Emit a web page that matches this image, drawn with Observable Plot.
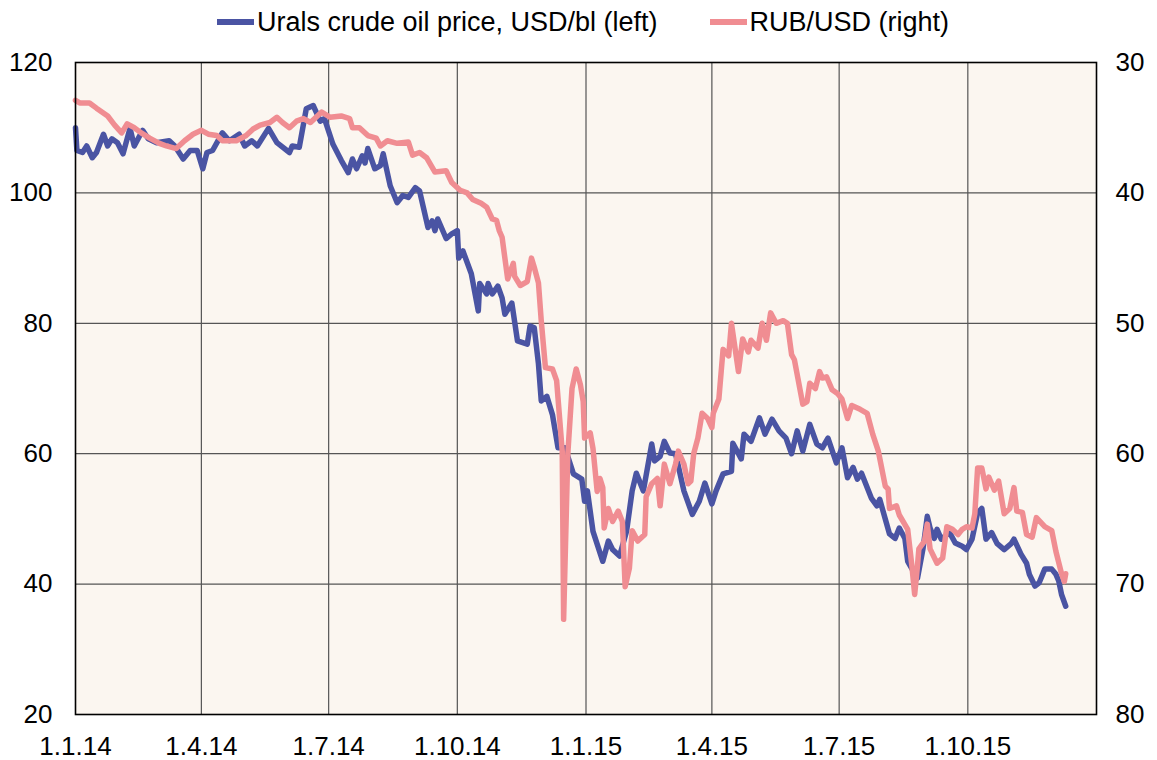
<!DOCTYPE html>
<html><head><meta charset="utf-8">
<script src="https://cdn.jsdelivr.net/npm/d3@7"></script>
<script src="https://cdn.jsdelivr.net/npm/@observablehq/plot@0.6"></script>
<style>
body{margin:0;background:#fff;font-family:"Liberation Sans",Arial,sans-serif;}
#legend{height:44px;display:flex;align-items:center;justify-content:center;font-size:27px;color:#000;gap:52px;padding-left:9px;box-sizing:border-box}
.item{display:flex;align-items:center;white-space:nowrap}
.sw{width:37px;height:6px;margin-right:3px}
</style></head><body>
<div id="legend"></div><div id="chart"></div>
<script>
const seriesNames = ["Urals crude oil price, USD/bl (left)", "RUB/USD (right)"];
const seriesColors = ["#4a54a3", "#f08d92"];

const xTickDates = ["2014-01-01","2014-04-01","2014-07-01","2014-10-01","2015-01-01","2015-04-01","2015-07-01","2015-10-01"];
const xTickLabels = ["1.1.14","1.4.14","1.7.14","1.10.14","1.1.15","1.4.15","1.7.15","1.10.15"];
const leftTicks = [20,40,60,80,100,120];
const rightTickLabels = [80,70,60,50,40,30];

const uralsDates = ["2014-01-01","2014-01-02","2014-01-06","2014-01-09","2014-01-13","2014-01-16","2014-01-21","2014-01-24","2014-01-27","2014-01-31","2014-02-04","2014-02-09","2014-02-12","2014-02-18","2014-02-22","2014-02-28","2014-03-09","2014-03-13","2014-03-19","2014-03-24","2014-03-29","2014-04-02","2014-04-05","2014-04-09","2014-04-16","2014-04-21","2014-04-28","2014-05-02","2014-05-07","2014-05-11","2014-05-19","2014-05-25","2014-06-03","2014-06-05","2014-06-10","2014-06-15","2014-06-20","2014-06-25","2014-06-28","2014-07-04","2014-07-10","2014-07-15","2014-07-18","2014-07-21","2014-07-25","2014-07-27","2014-07-29","2014-08-03","2014-08-07","2014-08-09","2014-08-14","2014-08-19","2014-08-23","2014-08-27","2014-09-01","2014-09-04","2014-09-10","2014-09-13","2014-09-15","2014-09-17","2014-09-23","2014-09-27","2014-10-01","2014-10-02","2014-10-05","2014-10-11","2014-10-16","2014-10-17","2014-10-22","2014-10-23","2014-10-26","2014-10-30","2014-11-02","2014-11-04","2014-11-09","2014-11-13","2014-11-20","2014-11-22","2014-11-25","2014-11-28","2014-11-30","2014-12-04","2014-12-08","2014-12-12","2014-12-17","2014-12-20","2014-12-23","2014-12-29","2014-12-31","2015-01-02","2015-01-06","2015-01-13","2015-01-17","2015-01-20","2015-01-25","2015-01-30","2015-02-03","2015-02-06","2015-02-11","2015-02-17","2015-02-19","2015-02-23","2015-02-26","2015-03-02","2015-03-06","2015-03-12","2015-03-18","2015-03-23","2015-03-27","2015-04-01","2015-04-04","2015-04-09","2015-04-15","2015-04-16","2015-04-22","2015-04-24","2015-04-29","2015-05-05","2015-05-09","2015-05-14","2015-05-19","2015-05-24","2015-05-28","2015-06-01","2015-06-05","2015-06-10","2015-06-15","2015-06-19","2015-06-23","2015-06-29","2015-07-03","2015-07-07","2015-07-11","2015-07-14","2015-07-17","2015-07-24","2015-07-28","2015-07-30","2015-08-06","2015-08-10","2015-08-13","2015-08-17","2015-08-19","2015-08-23","2015-08-26","2015-08-30","2015-09-02","2015-09-04","2015-09-07","2015-09-09","2015-09-12","2015-09-18","2015-09-22","2015-09-27","2015-09-30","2015-10-04","2015-10-08","2015-10-11","2015-10-14","2015-10-18","2015-10-22","2015-10-27","2015-11-01","2015-11-03","2015-11-08","2015-11-12","2015-11-14","2015-11-18","2015-11-21","2015-11-25","2015-11-30","2015-12-03","2015-12-05","2015-12-07","2015-12-10"];
const uralsValues = [110,106.5,106.2,107.2,105.4,106.2,109,107.2,108.3,107.7,106,109.9,107.2,109.6,108.3,107.7,108,107.2,105.2,106.5,106.5,103.7,106.2,106.5,109.2,108,109,107.2,108,107.2,109.9,107.7,106.2,107.2,107,112.9,113.4,111,111.4,107.5,105,103.1,105.2,103.7,105.7,104.6,106.8,103.7,104.2,106,101.1,98.5,99.6,99.3,100.8,100.3,94.7,95.7,94.2,96,93,93.7,94.2,90,91.1,87.6,81.9,86.1,84.5,86.1,84.5,85.7,83.9,81.4,83.1,77.3,76.8,79.6,79.3,73.8,68.1,68.8,66,60.9,60.9,58.9,56.9,56.1,52.7,54.3,48.1,43.5,46.6,45.3,44.3,48.1,54.3,57,54.3,61.5,58.9,59.6,61.9,60.1,60,54.3,50.7,52.7,55.5,52.3,54.3,56.9,57.3,61.6,59.2,63,61.9,65.5,63,65.3,63.5,62.4,60,63.5,60.4,64.5,61.5,60.9,62.4,58.6,60.9,56.3,57.9,56.1,57,53.2,52,53,47.7,47,48.6,47,43.5,42,40.9,45.5,50.4,48.6,47,48.4,46.9,47.9,46.3,45.8,45.3,46.9,50.9,51.6,46.9,47.9,46.2,45.3,46.2,46.9,44.6,43.2,41.5,39.7,40.2,42.3,42.3,41.5,40.5,38.4,36.6];

const rubDates = ["2014-01-01","2014-01-04","2014-01-11","2014-01-16","2014-01-24","2014-01-29","2014-02-03","2014-02-07","2014-02-12","2014-02-17","2014-02-23","2014-03-02","2014-03-07","2014-03-14","2014-03-20","2014-03-26","2014-04-01","2014-04-06","2014-04-12","2014-04-16","2014-04-26","2014-05-03","2014-05-08","2014-05-13","2014-05-20","2014-05-25","2014-05-29","2014-06-03","2014-06-08","2014-06-13","2014-06-18","2014-06-26","2014-07-02","2014-07-10","2014-07-16","2014-07-18","2014-07-23","2014-07-29","2014-08-04","2014-08-07","2014-08-12","2014-08-19","2014-08-27","2014-08-30","2014-09-04","2014-09-09","2014-09-15","2014-09-23","2014-09-27","2014-10-03","2014-10-08","2014-10-12","2014-10-18","2014-10-22","2014-10-26","2014-10-29","2014-10-31","2014-11-02","2014-11-06","2014-11-10","2014-11-11","2014-11-15","2014-11-20","2014-11-23","2014-11-25","2014-11-28","2014-11-30","2014-12-03","2014-12-08","2014-12-11","2014-12-15","2014-12-16","2014-12-19","2014-12-22","2014-12-25","2014-12-28","2014-12-30","2014-12-31","2015-01-04","2015-01-06","2015-01-09","2015-01-11","2015-01-13","2015-01-14","2015-01-17","2015-01-20","2015-01-24","2015-01-27","2015-01-29","2015-02-01","2015-02-03","2015-02-07","2015-02-12","2015-02-13","2015-02-17","2015-02-21","2015-02-23","2015-02-26","2015-03-02","2015-03-06","2015-03-08","2015-03-12","2015-03-15","2015-03-17","2015-03-19","2015-03-22","2015-03-25","2015-03-29","2015-04-01","2015-04-02","2015-04-06","2015-04-09","2015-04-13","2015-04-15","2015-04-20","2015-04-23","2015-04-27","2015-04-29","2015-05-04","2015-05-07","2015-05-10","2015-05-13","2015-05-17","2015-05-22","2015-05-25","2015-05-28","2015-05-30","2015-06-05","2015-06-08","2015-06-10","2015-06-14","2015-06-17","2015-06-19","2015-06-22","2015-06-26","2015-06-30","2015-07-03","2015-07-07","2015-07-10","2015-07-16","2015-07-21","2015-07-25","2015-07-29","2015-08-03","2015-08-05","2015-08-06","2015-08-11","2015-08-13","2015-08-19","2015-08-22","2015-08-24","2015-08-26","2015-08-27","2015-08-31","2015-09-02","2015-09-04","2015-09-09","2015-09-13","2015-09-16","2015-09-20","2015-09-24","2015-09-27","2015-09-30","2015-10-04","2015-10-06","2015-10-08","2015-10-11","2015-10-14","2015-10-16","2015-10-20","2015-10-23","2015-10-27","2015-10-31","2015-11-03","2015-11-05","2015-11-09","2015-11-12","2015-11-16","2015-11-19","2015-11-25","2015-11-30","2015-12-03","2015-12-07","2015-12-09","2015-12-10"];
const rubValues = [32.9,33.1,33.1,33.5,34.1,34.8,35.4,34.7,35,35.4,35.8,36.2,36.4,36.6,36,35.5,35.2,35.5,35.6,36,36,35.6,35.1,34.8,34.6,34.2,34.6,35,34.5,34.3,34.6,33.8,34.2,34.1,34.3,35,35,35.6,35.8,36.4,36,36.2,36.1,37.1,36.9,37.3,38.4,38.3,39.2,39.8,40,40.5,40.8,41.1,42,42.1,42.9,43.4,46.6,45.4,46.4,47.1,46.8,45,45.7,46.9,49.8,53.4,53.5,54.4,59.8,72.7,60,55,53.5,54.7,56,58.8,58.4,59.6,62.9,61.9,62.6,65.7,64.2,65.2,64.4,65.2,70.2,68.8,65.9,66.7,66.2,63.3,62.3,61.9,64,60.8,62.3,60.8,59.8,60.8,62.3,62.1,60,58.8,56.9,57.3,58,56.9,55.8,52,52.5,50,53.7,51.2,52.2,51.3,51.9,50,51.3,49.2,50,49.8,50,52.4,52.8,56.2,56,54.6,55,53.7,54.2,54.1,55.1,55.4,55.8,57.3,56.3,56.6,56.9,58.5,59.8,62.5,62.7,64.2,64,64.7,65.8,68.6,70.8,68.6,67.3,66.7,65.4,67.3,68.4,68,65.6,65.8,66.2,65.8,65.6,65.7,64.6,61.1,61.1,62.7,61.8,62.8,62.1,64.6,64.2,62.6,64.4,64.5,66.2,66.4,64.9,65.6,65.9,67.5,69.2,69.8,69.2];

const urals = uralsDates.map((d, i) => ({date: new Date(d), value: uralsValues[i]}));
const rub = rubDates.map((d, i) => ({date: new Date(d), value: rubValues[i]}));
const xTicks = xTickDates.map(d => new Date(d));
// right axis is inverted: 30 at the top (=120 left), 80 at the bottom (=20 left)
const rubToLeft = v => 180 - 2 * v;
const leftToRub = v => (180 - v) / 2;

const legend = document.getElementById("legend");
seriesNames.forEach((n, i) => {
  const it = document.createElement("div"); it.className = "item";
  const sw = document.createElement("div"); sw.className = "sw"; sw.style.background = seriesColors[i];
  const tx = document.createElement("span"); tx.textContent = n;
  it.appendChild(sw); it.appendChild(tx); legend.appendChild(it);
});

const chart = Plot.plot({
  width: 1157, height: 716,
  marginTop: 18, marginBottom: 46, marginLeft: 75, marginRight: 61,
  style: {fontFamily: "'Liberation Sans', Arial, sans-serif", fontSize: "26px", color: "#000", background: "#fff", overflow: "visible"},
  x: {type: "utc", domain: [new Date("2014-01-01"), new Date("2016-01-01")]},
  y: {domain: [20, 120], label: null},
  marks: [
    Plot.frame({fill: "#fbf6f0", stroke: null}),
    Plot.gridX(xTicks.slice(1), {stroke: "#555", strokeOpacity: 1, strokeWidth: 1.2}),
    Plot.gridY([40, 60, 80, 100], {stroke: "#555", strokeOpacity: 1, strokeWidth: 1.2}),
    Plot.line(urals, {x: "date", y: "value", stroke: seriesColors[0], strokeWidth: 5.5, strokeLinejoin: "round", strokeLinecap: "round"}),
    Plot.line(rub, {x: "date", y: d => rubToLeft(d.value), stroke: seriesColors[1], strokeWidth: 5.5, strokeLinejoin: "round", strokeLinecap: "round"}),
    Plot.frame({stroke: "#000", strokeWidth: 1.6}),
    Plot.axisX({ticks: xTicks, tickSize: 0, tickPadding: 22, label: null,
      tickFormat: d => xTickLabels[xTicks.findIndex(t => +t === +d)]}),
    Plot.axisY({anchor: "left", ticks: leftTicks, tickSize: 0, tickPadding: 23, label: null}),
    Plot.axisY({anchor: "right", ticks: leftTicks, tickSize: 0, tickPadding: 19, label: null,
      tickFormat: d => String(rightTickLabels[leftTicks.indexOf(d)] ?? leftToRub(d))})
  ]
});
document.getElementById("chart").appendChild(chart);
</script>
</body></html>
